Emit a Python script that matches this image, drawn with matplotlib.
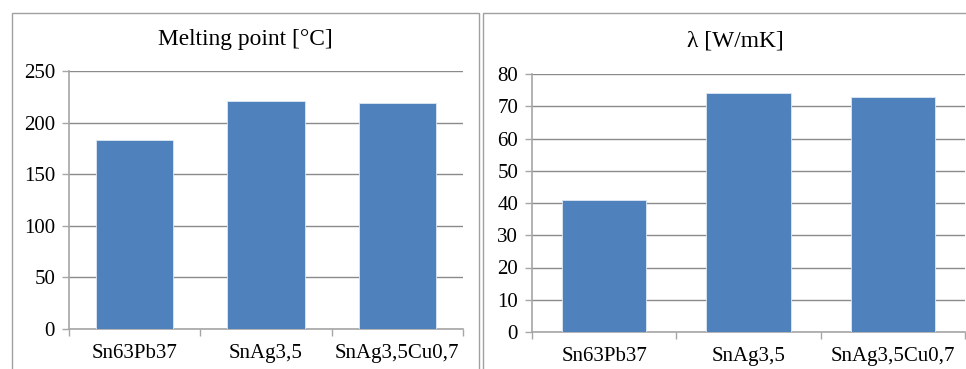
import matplotlib
matplotlib.use("Agg")
import matplotlib.pyplot as plt
from matplotlib.patches import Rectangle

categories = ["Sn63Pb37", "SnAg3,5", "SnAg3,5Cu0,7"]
melting_point = [183, 221, 219]
conductivity = [41, 74, 73]
mp_ticks = [0, 50, 100, 150, 200, 250]
lam_ticks = [0, 10, 20, 30, 40, 50, 60, 70, 80]

W, H = 966, 369
fig = plt.figure(figsize=(W / 100, H / 100), dpi=100)
fig.patch.set_facecolor("white")
plt.rcParams["font.family"] = ["Liberation Serif", "DejaVu Serif"]

BAR = "#4F81BD"
GRID = "#8a8a8a"
SPINE = "#a6a6a6"

def px(x0, y0, x1, y1):
    return [x0 / W, 1 - y1 / H, (x1 - x0) / W, (y1 - y0) / H]

# panel borders
for (x0, x1) in [(12, 479), (483, 990)]:
    fig.patches.append(Rectangle((x0 / W, -0.1), (x1 - x0) / W, (1 - 13 / H) + 0.1,
                                 transform=fig.transFigure, fill=False,
                                 edgecolor="#a0a0a0", linewidth=1.0))

def make(ax, vals, ticks, width):
    x = range(len(categories))
    ax.bar(x, vals, width=width, color=BAR, edgecolor="#dfe8f3", linewidth=0.6, zorder=3)
    ax.set_xlim(-0.5, len(categories) - 0.5)
    ax.set_ylim(ticks[0], ticks[-1])
    ax.set_yticks(ticks)
    ax.set_yticklabels([str(t) for t in ticks], fontsize=15)
    ax.set_xticks(list(x))
    ax.set_xticklabels(categories, fontsize=15)
    ax.set_xticks([i - 0.5 for i in range(len(categories) + 1)], minor=True)
    ax.tick_params(axis="x", which="major", length=0, pad=11)
    ax.tick_params(axis="x", which="minor", length=5, color=SPINE, width=1)
    ax.tick_params(axis="y", length=5, color=SPINE, width=1, pad=5)
    ax.yaxis.grid(True, color=GRID, linewidth=1.0, zorder=0)
    ax.set_axisbelow(True)
    for s in ["top", "right"]:
        ax.spines[s].set_visible(False)
    for s in ["left", "bottom"]:
        ax.spines[s].set_color(SPINE)
        ax.spines[s].set_linewidth(1.2)

ax1 = fig.add_axes(px(69, 71, 463, 329))
make(ax1, melting_point, mp_ticks, 0.59)
ax2 = fig.add_axes(px(532, 74, 965, 332))
make(ax2, conductivity, lam_ticks, 0.586)

fig.text(245 / W, 1 - 39 / H, "Melting point [°C]", ha="center", va="center", fontsize=16.8)
fig.text(735 / W, 1 - 41 / H, "λ [W/mK]", ha="center", va="center", fontsize=16.8)

fig.savefig("out.png", dpi=100)
